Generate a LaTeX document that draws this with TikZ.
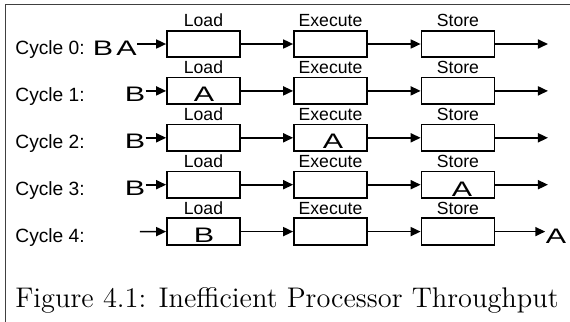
\documentclass[tikz,border=0pt]{standalone}
\usepackage{fontspec}
\newfontfamily\arial{Liberation Sans}
\usetikzlibrary{arrows.meta}

\begin{document}
\begin{tikzpicture}[x=.5pt, y=-.5pt,
		stage/.style={draw, line width=.85pt, minimum width=36.5pt, minimum height=13.3pt, inner sep=0pt},
		flow/.style={line width=.85pt, -{Triangle[length=5pt,width=4.5pt]}},
		cyc/.style={font=\arial\fontsize{9.6}{12}\selectfont, anchor=base west, inner sep=0pt},
		tag/.style={font=\arial\fontsize{8.8}{10}\selectfont, anchor=base, inner sep=0pt},
		job/.style={font=\arial\fontsize{10.5}{12}\selectfont, xscale=1.45, anchor=base, inner sep=0pt}]
	\useasboundingbox (0,0) rectangle (570,322);
	\draw[line width=.75pt, black!75] (5.5,322) -- (5.5,4.5) -- (570,4.5);
	% one row of the pipeline per cycle
	\foreach \r in {0,...,4} {
		\pgfmathsetmacro\yy{44+46.9*\r}
		\node[stage] (l\r) at (203.5,\yy) {};
		\node[stage] (e\r) at (330.5,\yy) {};
		\node[stage] (s\r) at (458,\yy) {};
		\node[tag] (tl\r) at ([yshift=1.7pt]l\r.north) {Load};
		\node[tag] (te\r) at ([yshift=1.7pt]e\r.north) {Execute};
		\node[tag] (ts\r) at ([yshift=1.7pt]s\r.north) {Store};
		\node[cyc] (c\r) at (15,\yy+10.5) {Cycle \r:};
		\draw[flow] (l\r) -- (e\r);
		\draw[flow] (e\r) -- (s\r);
	}
	\foreach \r in {0,...,3} {
		\coordinate (o\r) at (548,44+46.9*\r);
		\draw[flow] (s\r) -- (o\r);
	}
	% instructions waiting and in flight
	\node[job] (b0) at (103,55) {B};
	\node[job] (a0) at (126.5,55) {A};
	\draw[flow] (a0.east |- l0) -- (l0);
	\foreach \r in {1,2,3} {
		\node[job] (b\r) at (135,54.5+46.9*\r) {B};
		\draw[flow] (b\r.east |- l\r) -- (l\r);
	}
	\node[job] (a1) at (204,101.9) {A};
	\node[job] (a2) at (333,148.8) {A};
	\node[job] (a3) at (462,196.7) {A};
	\node[job] (b4) at (204,242.6) {B};
	\node[job] (a4) at (556,243.1) {A};
	\coordinate (i4) at (140,231.6);
	\draw[flow] (i4) -- (l4);
	\draw[flow] (s4) -- (a4.west |- s4);
	\node[font=\fontsize{14.2}{16}\selectfont, anchor=base, inner sep=0pt] (cap) at (287,307) {Figure 4.1: Inefficient Processor Throughput};
\end{tikzpicture}
\end{document}
